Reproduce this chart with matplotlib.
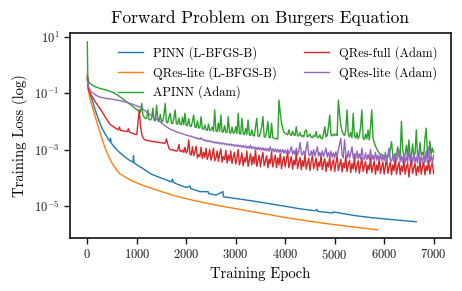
import numpy as np
import matplotlib
matplotlib.use("Agg")
import matplotlib.pyplot as plt
from matplotlib.ticker import NullLocator, FixedLocator

plt.rcParams['font.family'] = 'serif'
plt.rcParams['font.serif'] = ['cmr10']
plt.rcParams['mathtext.fontset'] = 'cm'
plt.rcParams['axes.formatter.use_mathtext'] = True

# ---------------- data (log10 of training loss) ----------------
# L-BFGS-B runs
pinn_epochs = [0, 20, 60, 100, 160, 230, 300, 380, 460, 470, 480, 550, 630, 750, 850, 925, 933, 945,
               1100, 1300, 1500, 1700, 1720, 1740, 1800, 2000, 2077, 2090, 2280, 2440, 2455, 2600,
               2742, 2752, 2950, 3300, 3620, 4000, 4300, 4600, 4640, 4655, 4960, 4975, 5400, 5770,
               6200, 6650]
pinn_log = [-0.35, -0.8, -1.06, -1.25, -1.6, -1.95, -2.25, -2.5, -2.72, -2.6, -2.76, -2.92, -3.07,
            -3.25, -3.38, -3.45, -3.22, -3.48, -3.65, -3.88, -4.02, -4.15, -4.05, -4.17, -4.22,
            -4.35, -4.3, -4.39, -4.5, -4.5, -4.57, -4.62, -4.5, -4.68, -4.73, -4.82, -4.91, -5.02,
            -5.11, -5.18, -5.13, -5.2, -5.26, -5.22, -5.35, -5.43, -5.5, -5.57]

qlite_lb_epochs = [0, 20, 60, 120, 180, 262, 350, 430, 500, 564, 650, 800, 950, 1100, 1300, 1500,
                   1774, 2000, 2300, 2600, 2950, 3300, 3620, 4000, 4300, 4760, 5300, 5873]
qlite_lb_log = [-0.35, -0.9, -1.24, -1.6, -1.95, -2.42, -2.9, -3.25, -3.48, -3.66, -3.85, -4.02,
                -4.15, -4.26, -4.38, -4.5, -4.65, -4.75, -4.87, -4.98, -5.09, -5.2, -5.3, -5.42,
                -5.5, -5.62, -5.74, -5.86]

# Adam runs: early points, then every 25 epochs from 1050 to 7000
adam_grid = list(range(1050, 7001, 25))

apinn_epochs = [0, 10, 25, 60, 150, 260, 360, 450, 530, 600, 680, 750, 830, 900, 950, 1000] + adam_grid
apinn_log = [0.83, -0.4, -0.58, -0.66, -0.76, -0.83, -0.87, -0.92, -0.98, -1.05, -1.15, -1.24,
             -1.35, -1.45, -1.52, -1.58,
             # 1050-2025
             -1.63, -1.68, -1.36, -1.78, -1.85, -1.9, -1.88, -1.59, -1.93, -1.95,
             -1.9, -1.53, -1.96, -1.98, -1.42, -1.97, -2.0, -1.75, -2.02, -2.0,
             -1.75, -1.36, -2.03, -2.05, -1.85, -1.71, -2.06, -2.08, -1.9, -1.59,
             -2.08, -2.1, -1.88, -2.1, -2.12, -1.85, -2.12, -1.71, -2.14, -2.15,
             # 2050-3025
             -1.9, -2.16, -2.18, -2.0, -1.77, -2.2, -2.22, -1.98, -2.24, -2.22,
             -1.83, -2.26, -2.28, -2.13, -2.3, -2.32, -2.1, -2.33, -2.3, -2.2,
             -2.35, -1.59, -2.34, -2.36, -2.05, -2.36, -1.77, -2.38, -2.37, -2.15,
             -2.4, -2.38, -1.83, -2.4, -2.42, -2.2, -2.42, -2.4, -2.19, -2.43,
             # 3050-4025
             -1.71, -2.44, -2.45, -1.89, -2.45, -2.47, -2.25, -2.46, -1.95, -2.48,
             -2.5, -2.3, -2.5, -2.52, -2.2, -1.89, -2.52, -2.54, -2.4, -2.19,
             -1.83, -2.55, -2.56, -2.35, -2.0, -2.57, -2.58, -2.07, -2.58, -2.6,
             -2.62, -2.6, -2.63, -1.24, -1.7, -2.05, -2.25, -2.38, -2.42, -2.45,
             # 4050-5025
             -2.48, -2.3, -2.47, -2.5, -2.35, -2.48, -2.5, -2.19, -2.52, -2.5,
             -2.4, -2.53, -2.5, -2.55, -2.35, -2.3, -2.55, -2.52, -2.45, -2.56,
             -2.58, -2.5, -2.55, -2.36, -2.56, -2.58, -2.48, -2.6, -2.62, -2.45,
             -2.19, -2.55, -2.5, -2.2, -1.77, -2.48, -2.52, -2.45, -2.5, -2.45,
             # 5050-6025
             -2.5, -1.24, -1.75, -2.15, -2.35, -2.45, -2.5, -2.3, -1.59, -2.45,
             -2.55, -2.4, -2.58, -1.71, -2.5, -2.6, -2.4, -2.62, -2.5, -2.2,
             -1.59, -2.6, -2.65, -2.45, -2.62, -2.3, -2.66, -2.2, -1.59, -2.6,
             -2.75, -2.88, -2.98, -3.05, -3.12, -3.15, -3.18, -3.2, -3.22, -3.24,
             # 6050-7000
             -3.25, -3.2, -3.26, -3.0, -2.72, -3.2, -3.25, -3.15, -3.22, -2.9,
             -3.25, -3.2, -2.0, -3.0, -3.25, -3.2, -2.85, -3.25, -2.66, -3.2,
             -3.24, -2.8, -3.22, -3.15, -2.3, -3.2, -3.25, -2.75, -3.2, -3.1,
             -3.24, -2.6, -2.24, -3.15, -3.2, -2.7, -3.18, -2.95, -3.1]

qfull_epochs = [0, 20, 60, 100, 160, 260, 330, 400, 460, 550, 630, 650, 670, 700, 810, 830, 850,
                950, 1000] + adam_grid
qfull_log = [-0.46, -0.85, -1.0, -1.12, -1.3, -1.55, -1.75, -1.95, -2.1, -2.22, -2.3, -2.2, -2.32,
             -2.33, -2.36, -2.26, -2.38, -2.45, -2.47,
             # 1050-2025
             -1.59, -2.15, -2.45, -2.58, -2.63, -2.66, -2.67, -2.69, -2.68, -2.7,
             -2.71, -2.72, -2.71, -2.73, -2.74, -2.73, -2.75, -2.76, -2.75, -2.77,
             -2.78, -2.77, -2.62, -2.8, -2.96, -3.0, -3.02, -3.0, -3.04, -3.03,
             -3.06, -3.04, -2.82, -3.06, -3.08, -3.02, -3.1, -2.92, -3.12, -3.05,
             # 2050-3025
             -2.66, -3.15, -3.2, -2.9, -3.22, -3.1, -2.88, -3.3, -3.18, -3.25,
             -2.92, -3.32, -3.1, -3.28, -2.95, -3.35, -3.2, -3.0, -3.38, -3.22,
             -2.95, -3.4, -3.3, -3.05, -3.42, -3.15, -2.98, -3.45, -3.25, -3.35,
             -3.02, -3.48, -3.2, -3.4, -3.05, -3.5, -3.28, -3.1, -3.52, -3.3,
             # 3050-4025
             -3.0, -3.55, -3.35, -3.12, -3.58, -3.3, -3.45, -3.05, -3.6, -3.38,
             -3.15, -3.55, -3.25, -3.5, -3.02, -3.6, -3.4, -3.2, -3.62, -3.3,
             -3.1, -3.58, -3.42, -3.22, -3.65, -3.35, -3.5, -3.08, -3.62, -3.4,
             -3.2, -3.65, -3.3, -3.55, -3.15, -3.68, -3.42, -3.25, -3.62, -3.35,
             # 4050-5025
             -3.12, -3.65, -3.45, -3.25, -3.7, -3.38, -3.55, -3.1, -3.68, -3.45,
             -3.28, -3.72, -3.4, -3.6, -3.15, -3.7, -3.5, -3.3, -3.75, -3.42,
             -3.22, -3.68, -3.5, -3.3, -3.74, -3.45, -3.6, -3.18, -3.72, -3.5,
             -3.32, -3.78, -3.45, -3.62, -3.25, -3.75, -3.52, -3.35, -3.78, -3.48,
             # 5050-6025
             -3.2, -3.75, -3.55, -3.35, -3.8, -3.48, -3.65, -3.22, -3.78, -3.55,
             -3.38, -3.82, -3.5, -3.7, -3.25, -3.8, -3.58, -3.4, -3.85, -3.52,
             -3.3, -3.78, -3.6, -3.42, -3.85, -3.55, -3.72, -3.28, -3.82, -3.6,
             -3.42, -3.88, -3.55, -3.75, -3.32, -3.85, -3.62, -3.45, -3.88, -3.58,
             # 6050-7000
             -3.3, -3.85, -3.62, -3.45, -3.9, -3.55, -3.75, -3.3, -3.88, -3.62,
             -3.45, -3.9, -3.58, -3.78, -3.35, -3.88, -3.65, -3.48, -3.98, -3.6,
             -3.38, -3.85, -3.65, -3.5, -3.92, -3.6, -3.8, -3.35, -3.88, -3.62,
             -3.45, -3.9, -3.58, -3.75, -3.38, -3.88, -3.6, -3.48, -3.85]

qlite_adam_epochs = [0, 20, 60, 100, 160, 230, 360, 500, 630, 750, 830, 930, 1000] + adam_grid
qlite_adam_log = [-0.53, -0.75, -0.9, -0.97, -1.05, -1.12, -1.18, -1.21, -1.25, -1.3, -1.34, -1.4,
                  -1.45,
                  # 1050-2025
                  -1.48, -1.5, -1.53, -1.56, -1.6, -1.63, -1.67, -1.7, -1.73, -1.76,
                  -1.8, -1.83, -1.87, -1.9, -1.93, -1.88, -1.98, -2.02, -2.06, -2.09,
                  -2.12, -2.16, -2.19, -2.22, -2.25, -2.27, -2.3, -2.31, -2.33, -2.35,
                  -2.37, -2.38, -2.4, -2.42, -2.43, -2.44, -2.46, -2.47, -2.49, -2.5,
                  # 2050-3025
                  -2.51, -2.53, -2.52, -2.56, -2.55, -2.59, -2.58, -2.62, -2.6, -2.64,
                  -2.58, -2.66, -2.64, -2.69, -2.66, -2.72, -2.68, -2.73, -2.7, -2.75,
                  -2.72, -2.77, -2.73, -2.78, -2.74, -2.8, -2.76, -2.81, -2.77, -2.82,
                  -2.78, -2.84, -2.8, -2.85, -2.8, -2.86, -2.82, -2.88, -2.83, -2.89,
                  # 3050-4025
                  -2.84, -2.9, -2.85, -2.92, -2.86, -2.93, -2.87, -2.95, -2.88, -2.96,
                  -2.85, -2.97, -2.9, -2.98, -2.91, -3.0, -2.92, -3.01, -2.93, -3.02,
                  -2.94, -3.04, -2.95, -3.05, -2.96, -3.06, -2.9, -3.07, -2.97, -3.08,
                  -2.98, -3.09, -2.99, -3.1, -3.0, -3.12, -3.0, -3.13, -3.02, -3.14,
                  # 4050-5025
                  -3.0, -3.15, -3.05, -2.9, -3.17, -3.04, -3.18, -2.95, -3.18, -3.05,
                  -2.75, -3.15, -3.2, -3.05, -3.2, -2.95, -2.72, -3.18, -3.22, -3.05,
                  -3.22, -3.0, -3.24, -3.08, -2.9, -3.24, -3.1, -3.26, -3.05, -3.25,
                  -3.1, -2.95, -3.27, -3.1, -3.28, -3.05, -3.28, -3.12, -3.3, -3.08,
                  # 5050-6025
                  -3.28, -3.0, -2.8, -2.6, -3.2, -3.3, -2.65, -3.15, -3.3, -3.05,
                  -3.3, -3.12, -2.9, -3.3, -3.15, -3.32, -3.05, -3.33, -3.15, -3.34,
                  -2.95, -3.3, -3.35, -3.12, -3.36, -3.18, -3.35, -3.0, -3.37, -3.2,
                  -3.38, -3.1, -3.38, -3.2, -3.4, -3.15, -3.4, -3.22, -3.4, -3.1,
                  # 6050-7000
                  -3.42, -3.2, -2.95, -3.38, -3.42, -3.2, -3.44, -3.15, -3.42, -3.25,
                  -3.0, -3.44, -3.22, -3.45, -3.18, -3.45, -3.25, -3.46, -3.0, -3.42,
                  -3.22, -3.46, -3.15, -3.46, -3.25, -3.48, -3.1, -3.45, -3.25, -3.48,
                  -3.2, -3.46, -3.05, -3.47, -2.92, -3.45, -3.22, -3.48, -3.2]

labels = ["PINN (L-BFGS-B)", "QRes-lite (L-BFGS-B)", "APINN (Adam)",
          "QRes-full (Adam)", "QRes-lite (Adam)"]
colors = ["#1f77b4", "#ff7f0e", "#2ca02c", "#d62728", "#9467bd"]

series = [(pinn_epochs, pinn_log), (qlite_lb_epochs, qlite_lb_log),
          (apinn_epochs, apinn_log), (qfull_epochs, qfull_log),
          (qlite_adam_epochs, qlite_adam_log)]

# ---------------- plot ----------------
fig = plt.figure(figsize=(4.62, 2.91), dpi=100)
ax = fig.add_axes([0.1515, 0.182, 0.8245, 0.705])

for (ep, lg), lab, c in zip(series, labels, colors):
    n = min(len(ep), len(lg))
    ax.plot(ep[:n], 10.0 ** np.array(lg[:n]), color=c, lw=1.0, label=lab)

ax.set_yscale('log')
ax.yaxis.set_major_locator(FixedLocator([1e1, 1e-1, 1e-3, 1e-5]))
ax.yaxis.set_minor_locator(NullLocator())
ax.set_xticks([0, 1000, 2000, 3000, 4000, 5000, 6000, 7000])
ax.set_xlim(-350, 7350)
ax.set_ylim(10 ** -6.15, 10 ** 1.15)

for s in ax.spines.values():
    s.set_linewidth(1.25)
    s.set_color('#1a1a1a')
ax.tick_params(axis='both', which='major', labelsize=9, length=4, width=1.0, direction='out',
               colors='#1a1a1a')

ax.set_title("Forward Problem on Burgers Equation", fontsize=12.5, pad=7)
ax.set_xlabel("Training Epoch", fontsize=10.5, labelpad=3)
ax.set_ylabel("Training Loss (log)", fontsize=10.5, labelpad=4)

ax.legend(loc='upper right', ncol=2, frameon=False, fontsize=9, handlelength=2.0,
          columnspacing=2.2, labelspacing=0.48, bbox_to_anchor=(0.995, 0.99))

fig.savefig("out.png", dpi=100)
